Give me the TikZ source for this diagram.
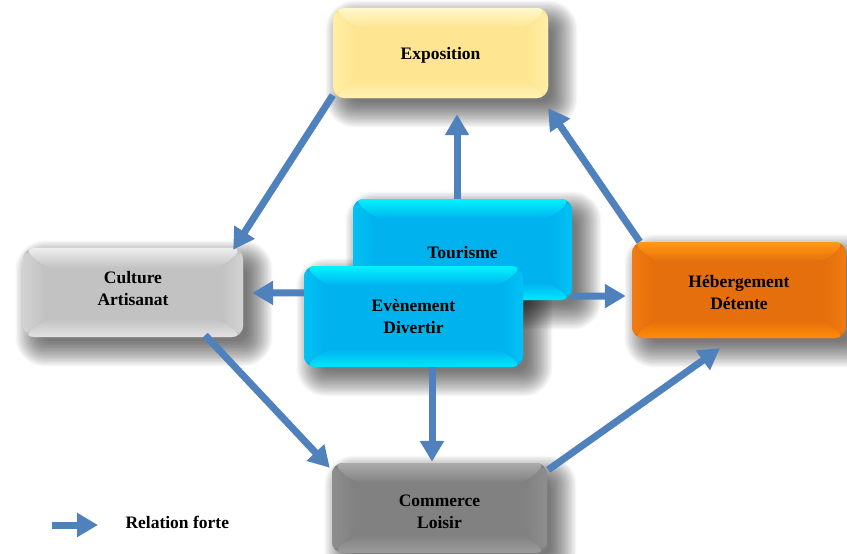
\documentclass[tikz,border=0pt]{standalone}
\usepackage{fontspec}
\setmainfont{Liberation Serif}
\usetikzlibrary{arrows.meta}

\pgfdeclarelayer{background}
\pgfsetlayers{background,main}

\definecolor{arrowblue}{HTML}{4F81BD}
% yellow box
\definecolor{ySide}{HTML}{FFEFA6}\definecolor{yFace}{HTML}{FEE591}
\definecolor{yTop}{HTML}{FFF8CC}\definecolor{yBot}{HTML}{FFF3B4}
% cyan boxes
\definecolor{cSide}{HTML}{00C2F4}\definecolor{cFace}{HTML}{00B2EE}
\definecolor{cTop}{HTML}{00F4FF}\definecolor{cBot}{HTML}{00E6FF}
% orange box
\definecolor{oSide}{HTML}{F07C12}\definecolor{oFace}{HTML}{E46F0C}
\definecolor{oTop}{HTML}{FF9A12}\definecolor{oBot}{HTML}{FF8C08}
% light grey box
\definecolor{lSide}{HTML}{D2D2D2}\definecolor{lFace}{HTML}{C2C2C2}
\definecolor{lTop}{HTML}{EFEFEF}\definecolor{lBot}{HTML}{E2E2E2}
% dark grey box
\definecolor{dSide}{HTML}{8E8E8E}\definecolor{dFace}{HTML}{818181}
\definecolor{dTop}{HTML}{ABABAB}\definecolor{dBot}{HTML}{9C9C9C}

% soft drop shadow behind a box: stacked, growing translucent layers
\newcommand\dropshade[1]{%
  \foreach \k in {0,...,18}{
    \pgfmathsetmacro\grow{-7+1.4*\k}
    \pgfmathsetmacro\rad{11+max(0,\grow)}
    \fill[black, opacity=0.035, rounded corners=\rad pt]
      ([xshift=11pt-\grow pt, yshift=-11pt+\grow pt]#1.north west) rectangle
      ([xshift=11pt+\grow pt, yshift=-11pt-\grow pt]#1.south east);
  }%
}

\tikzset{
  % bevelled box: #1 side band, #2 face, #3 top rim, #4 bottom rim
  bevelbox/.style n args={4}{
    rectangle, rounded corners=11pt, draw=none, fill=#2,
    minimum width=215pt, minimum height=90pt, inner sep=0pt,
    path picture={
      \coordinate (pnw) at (path picture bounding box.north west);
      \coordinate (pne) at (path picture bounding box.north east);
      \coordinate (psw) at (path picture bounding box.south west);
      \coordinate (pse) at (path picture bounding box.south east);
      \shade[left color=#1, right color=#2]
        (pnw) -- ([xshift=22pt,yshift=-20pt]pnw) -- ([xshift=22pt,yshift=18pt]psw) -- (psw) -- cycle;
      \shade[left color=#2, right color=#1]
        (pne) -- ([xshift=-22pt,yshift=-20pt]pne) -- ([xshift=-22pt,yshift=18pt]pse) -- (pse) -- cycle;
      \shade[top color=#3, bottom color=#2]
        (pnw) -- (pne) -- ([xshift=-22pt,yshift=-20pt]pne) -- ([xshift=22pt,yshift=-20pt]pnw) -- cycle;
      \shade[top color=#2, bottom color=#4]
        (psw) -- (pse) -- ([xshift=-22pt,yshift=18pt]pse) -- ([xshift=22pt,yshift=18pt]psw) -- cycle;
      \fill[#2] ([xshift=22pt,yshift=-20pt]pnw) rectangle ([xshift=-22pt,yshift=18pt]pse);
    }
  },
  yellowbox/.style={bevelbox={ySide}{yFace}{yTop}{yBot}},
  cyanbox/.style={bevelbox={cSide}{cFace}{cTop}{cBot}},
  orangebox/.style={bevelbox={oSide}{oFace}{oTop}{oBot}},
  lightgreybox/.style={bevelbox={lSide}{lFace}{lTop}{lBot}},
  darkgreybox/.style={bevelbox={dSide}{dFace}{dTop}{dBot}},
  boxtext/.style={align=center, inner sep=0pt, font=\fontsize{17.5}{22}\selectfont\bfseries},
  relarrow/.style={draw=arrowblue, line width=7pt,
    -{Triangle[length=21pt,width=23pt,fill=arrowblue]}},
  legendtext/.style={anchor=west, font=\fontsize{17.5}{22}\selectfont\bfseries}
}

\begin{document}
\begin{tikzpicture}[x=1pt, y=-1pt]
  \useasboundingbox (0,0) rectangle (847,554);

  % boxes
  \node[yellowbox] (expo) at (440.5,53) {};
  \node[boxtext, yshift=-2pt] (expoT) at (expo.center) {Exposition};
  \node[lightgreybox, minimum width=220pt, minimum height=89pt] (cult) at (133,292.5) {};
  \node[boxtext, yshift=4pt] (cultT) at (cult.center) {Culture\\Artisanat};
  \node[orangebox, minimum width=214pt, minimum height=96pt] (heb) at (739,290) {};
  \node[boxtext, yshift=-3pt] (hebT) at (heb.center) {Hébergement\\Détente};
  \node[darkgreybox] (comm) at (439.5,508) {};
  \node[boxtext, yshift=-4pt] (commT) at (comm.center) {Commerce\\Loisir};
  \node[cyanbox, minimum width=219pt, minimum height=101pt] (tour) at (462.5,249.5) {};
  \node[boxtext, yshift=-3pt] (tourT) at (tour.center) {Tourisme};
  \node[cyanbox, minimum width=219pt, minimum height=101pt] (even) at (413.5,316.5) {};
  \node[boxtext, yshift=0pt] (evenT) at (even.center) {Evènement\\Divertir};

  % shadows behind the boxes
  \begin{pgfonlayer}{background}
    \fill[white] (0,0) rectangle (847,554);
    \dropshade{expo}
    \dropshade{cult}
    \dropshade{heb}
    \dropshade{comm}
    \dropshade{tour}
    \dropshade{even}
  \end{pgfonlayer}

  % relations
  \draw[relarrow] ([yshift=3pt]expo.south west) -- ([xshift=-10pt,yshift=-2pt]cult.north east);
  \draw[relarrow] ([xshift=-5.5pt]tour.north) -- ([xshift=16.5pt,yshift=-16pt]expo.south);
  \draw[relarrow] ([xshift=8pt]heb.north west) -- ([yshift=-10pt]expo.south east);
  \draw[relarrow] ([yshift=-27pt]even.north west) -- ([xshift=9pt,yshift=-0.5pt]cult.east);
  \draw[relarrow] ([yshift=4pt]tour.south east) -- ([xshift=-6pt,yshift=-6pt]heb.west);
  \draw[relarrow] ([xshift=18.5pt]even.south) -- ([xshift=-7.5pt,yshift=1pt]comm.north);
  \draw[relarrow] ([xshift=-38pt,yshift=2pt]cult.south east) -- ([xshift=-2pt,yshift=-5pt]comm.north west);
  \draw[relarrow] ([xshift=1pt,yshift=-7pt]comm.north east) -- ([xshift=-19pt,yshift=-10pt]heb.south);

  % legend
  \coordinate (legstart) at (52,525);
  \coordinate (legend) at (98,525);
  \draw[relarrow] (legstart) -- (legend);
  \node[legendtext] (legtext) at (122,522) {Relation forte};
\end{tikzpicture}
\end{document}
